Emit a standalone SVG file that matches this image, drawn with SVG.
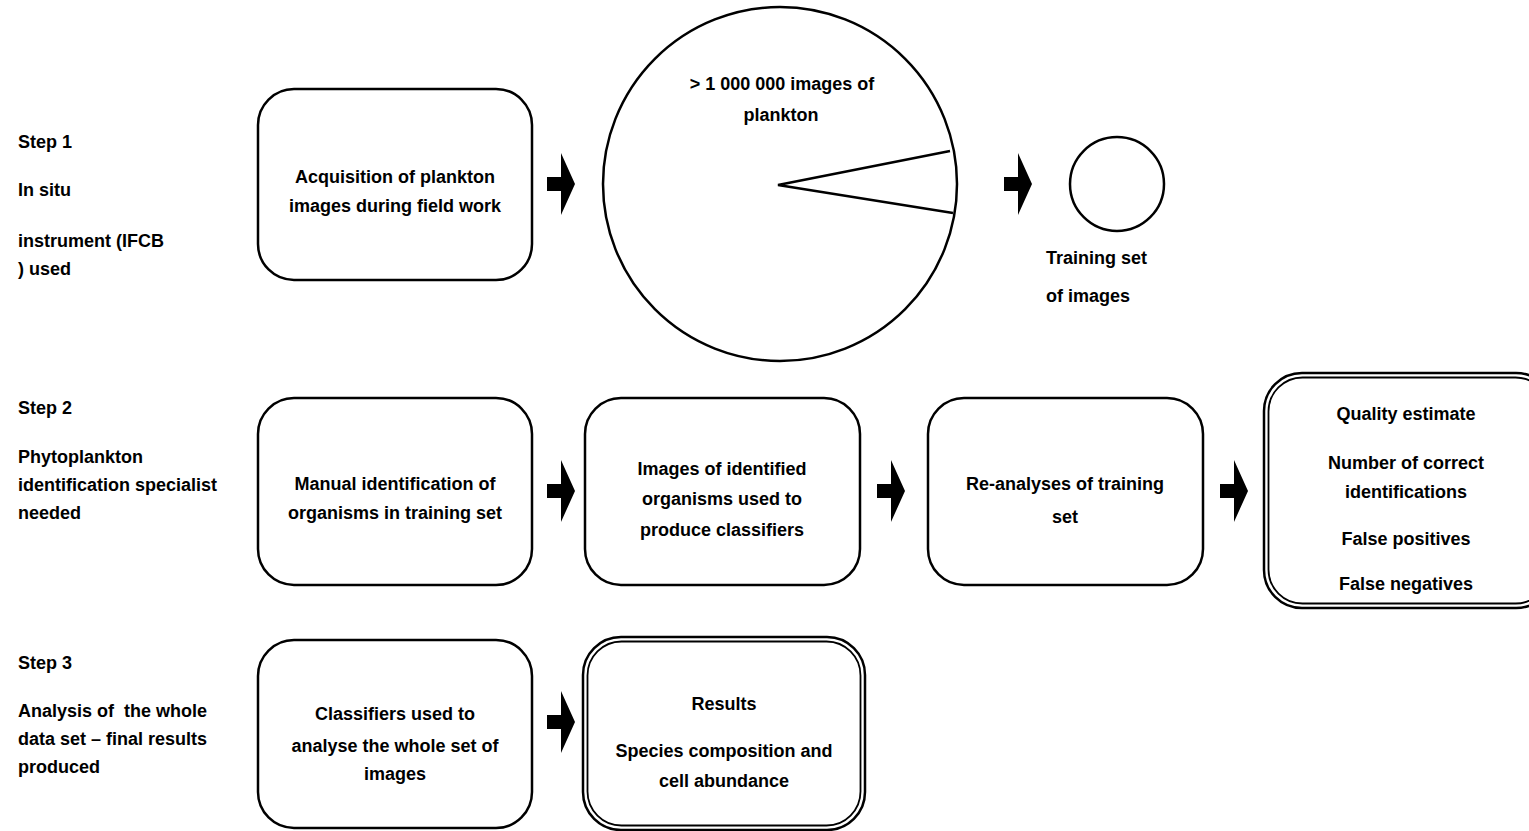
<svg xmlns="http://www.w3.org/2000/svg" width="1529" height="831" viewBox="0 0 1529 831">
<defs>
<style>
text{font-family:"Liberation Sans",Arial,sans-serif;font-weight:bold;font-size:18px;fill:#000}
.c{text-anchor:middle}
.box{fill:#fff;stroke:#000;stroke-width:2.5}
.thin{fill:none;stroke:#000;stroke-width:1.8}
.arr{fill:#000;stroke:none}
</style>
<path id="arrow" d="M0,-7 L14,-7 L14,-31 L28,0 L14,31 L14,7 L0,7 Z"/>
</defs>
<rect width="1529" height="831" fill="#fff"/>
<g id="labels">
<text x="18" y="148">Step 1</text>
<text x="18" y="196">In situ</text>
<text x="18" y="247">instrument (IFCB</text>
<text x="18" y="275">) used</text>
<text x="18" y="414">Step 2</text>
<text x="18" y="463">Phytoplankton</text>
<text x="18" y="491">identification specialist</text>
<text x="18" y="519">needed</text>
<text x="18" y="669">Step 3</text>
<text x="18" y="717" xml:space="preserve">Analysis of  the whole</text>
<text x="18" y="745">data set – final results</text>
<text x="18" y="773">produced</text>
</g>
<g id="connectors">
<use href="#arrow" class="arr" x="547" y="184"/>
<use href="#arrow" class="arr" x="1004" y="184"/>
<use href="#arrow" class="arr" x="547" y="491"/>
<use href="#arrow" class="arr" x="877" y="491"/>
<use href="#arrow" class="arr" x="1220" y="491"/>
<use href="#arrow" class="arr" x="547" y="722"/>
</g>
<g id="acquisition">
<rect class="box" x="258" y="89" width="274" height="191" rx="36"/>
<text class="c" x="395" y="183">Acquisition of plankton</text>
<text class="c" x="395" y="212">images during field work</text>
</g>
<g id="images-pie">
<circle class="box" cx="780" cy="184" r="177"/>
<polyline class="box" points="950,151 778,185 953,213" style="fill:none"/>
<text class="c" x="782" y="90">&gt; 1 000 000 images of</text>
<text class="c" x="781" y="121">plankton</text>
</g>
<g id="training-set">
<circle class="box" cx="1117" cy="184" r="47"/>
<text x="1046" y="264">Training set</text>
<text x="1046" y="302">of images</text>
</g>
<g id="manual-id">
<rect class="box" x="258" y="398" width="274" height="187" rx="36"/>
<text class="c" x="395" y="490">Manual identification of</text>
<text class="c" x="395" y="519">organisms in training set</text>
</g>
<g id="classifiers-produced">
<rect class="box" x="585" y="398" width="275" height="187" rx="36"/>
<text class="c" x="722" y="475">Images of identified</text>
<text class="c" x="722" y="505">organisms used to</text>
<text class="c" x="722" y="536">produce classifiers</text>
</g>
<g id="reanalyses">
<rect class="box" x="928" y="398" width="275" height="187" rx="36"/>
<text class="c" x="1065" y="490">Re-analyses of training</text>
<text class="c" x="1065" y="523">set</text>
</g>
<g id="quality">
<rect class="box" x="1264" y="373" width="290" height="235" rx="38"/>
<rect class="thin" x="1268.5" y="377.5" width="281" height="226" rx="34"/>
<text class="c" x="1406" y="420">Quality estimate</text>
<text class="c" x="1406" y="469">Number of correct</text>
<text class="c" x="1406" y="498">identifications</text>
<text class="c" x="1406" y="545">False positives</text>
<text class="c" x="1406" y="590">False negatives</text>
</g>
<g id="classifiers-used">
<rect class="box" x="258" y="640" width="274" height="188" rx="36"/>
<text class="c" x="395" y="720">Classifiers used to</text>
<text class="c" x="395" y="752">analyse the whole set of</text>
<text class="c" x="395" y="780">images</text>
</g>
<g id="results">
<rect class="box" x="583" y="637" width="282" height="193" rx="38"/>
<rect class="thin" x="587.5" y="641.5" width="273" height="184" rx="34"/>
<text class="c" x="724" y="710">Results</text>
<text class="c" x="724" y="757">Species composition and</text>
<text class="c" x="724" y="787">cell abundance</text>
</g>
</svg>
